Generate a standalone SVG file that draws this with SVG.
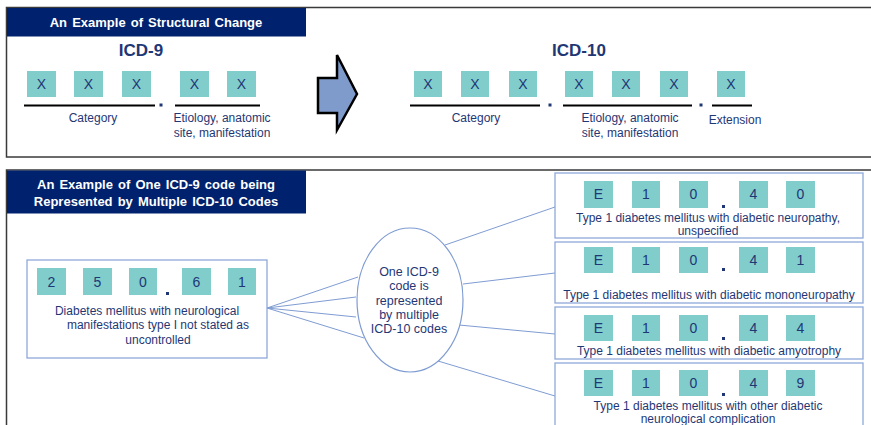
<svg xmlns="http://www.w3.org/2000/svg" width="871" height="425" viewBox="0 0 871 425">
<defs>
<style>
.panel{fill:#fff;stroke:#3a3a3a;stroke-width:1.5}
.bar{fill:#00226e}
.bt{font-family:"Liberation Sans",Arial,sans-serif;font-weight:bold;font-size:13px;word-spacing:1.5px;fill:#fff;text-anchor:middle}
.hd{font-family:"Liberation Sans",Arial,sans-serif;font-weight:bold;font-size:17px;fill:#1f3775;text-anchor:middle}
.sq{fill:#80cdcb}
.ch{font-family:"Liberation Sans",Arial,sans-serif;font-size:14px;fill:#1f3775;text-anchor:middle}
.lb{font-family:"Liberation Sans",Arial,sans-serif;font-size:12px;fill:#1f3775;text-anchor:middle}
.el{font-family:"Liberation Sans",Arial,sans-serif;font-size:12.5px;fill:#1f3775;text-anchor:middle}
.ul{stroke:#000;stroke-width:2}
.dot{fill:#1f3775}
.box{fill:#fff;stroke:#8ea8da;stroke-width:1.3}
.con{fill:none;stroke:#7f9cd2;stroke-width:1}
</style>
</defs>
<rect width="871" height="425" fill="#fff"/>

<g id="panel-structural">
<rect class="panel" x="6.5" y="7.5" width="870" height="149.5"/>
<rect class="bar" x="7" y="8" width="299" height="28.5"/>
<text class="bt" x="156" y="27">An Example of Structural Change</text>
</g>

<g id="icd9">
<text class="hd" x="141" y="56">ICD-9</text>
<rect class="sq" x="27" y="71" width="29" height="26"/>
<rect class="sq" x="74" y="71" width="29" height="26"/>
<rect class="sq" x="122" y="71" width="29" height="26"/>
<rect class="sq" x="180" y="71" width="29" height="26"/>
<rect class="sq" x="227" y="71" width="29" height="26"/>
<text class="ch" x="41.5" y="89">X</text>
<text class="ch" x="88.5" y="89">X</text>
<text class="ch" x="136.5" y="89">X</text>
<text class="ch" x="194.5" y="89">X</text>
<text class="ch" x="241.5" y="89">X</text>
<line class="ul" x1="24" y1="105.5" x2="155" y2="105.5"/>
<rect class="dot" x="159.5" y="103.5" width="3" height="3"/>
<line class="ul" x1="175" y1="105.5" x2="260" y2="105.5"/>
<text class="lb" x="93" y="122">Category</text>
<text class="lb" x="222" y="122">Etiology, anatomic</text>
<text class="lb" x="222" y="137">site, manifestation</text>
</g>

<g id="arrow">
<polygon points="318,78 337,78 337,55 357,94 337,130 337,113 318,113" fill="#7f9bcc" stroke="#000" stroke-width="2.5" stroke-linejoin="miter"/>
</g>

<g id="icd10">
<text class="hd" x="579" y="56">ICD-10</text>
<rect class="sq" x="414" y="71" width="28" height="26"/>
<rect class="sq" x="461" y="71" width="28" height="26"/>
<rect class="sq" x="509" y="71" width="28" height="26"/>
<rect class="sq" x="565" y="71" width="28" height="26"/>
<rect class="sq" x="612" y="71" width="28" height="26"/>
<rect class="sq" x="660" y="71" width="28" height="26"/>
<rect class="sq" x="717" y="71" width="28" height="26"/>
<text class="ch" x="428" y="89">X</text>
<text class="ch" x="475" y="89">X</text>
<text class="ch" x="523" y="89">X</text>
<text class="ch" x="579" y="89">X</text>
<text class="ch" x="626" y="89">X</text>
<text class="ch" x="674" y="89">X</text>
<text class="ch" x="731" y="89">X</text>
<line class="ul" x1="410" y1="105.5" x2="540" y2="105.5"/>
<rect class="dot" x="548.5" y="103.5" width="3" height="3"/>
<line class="ul" x1="563" y1="105.5" x2="692" y2="105.5"/>
<rect class="dot" x="699.5" y="103.5" width="3" height="3"/>
<line class="ul" x1="712" y1="105.5" x2="752" y2="105.5"/>
<text class="lb" x="476" y="122">Category</text>
<text class="lb" x="630" y="122">Etiology, anatomic</text>
<text class="lb" x="630" y="137">site, manifestation</text>
<text class="lb" x="735" y="124">Extension</text>
</g>

<g id="panel-mapping">
<rect class="panel" x="6.5" y="170" width="870" height="265"/>
<rect class="bar" x="7" y="170.5" width="299" height="43"/>
<text class="bt" x="156" y="189">An Example of One ICD-9 code being</text>
<text class="bt" x="156" y="205.5">Represented by Multiple ICD-10 Codes</text>
</g>

<g id="connectors">
<line class="con" x1="267" y1="308" x2="358" y2="277"/>
<line class="con" x1="267" y1="308" x2="356" y2="297"/>
<line class="con" x1="267" y1="308" x2="356" y2="317"/>
<line class="con" x1="267" y1="308" x2="364" y2="338"/>
<line class="con" x1="445" y1="245" x2="555" y2="207"/>
<line class="con" x1="463" y1="284" x2="555" y2="273"/>
<line class="con" x1="459" y1="325" x2="555" y2="334"/>
<line class="con" x1="438" y1="361" x2="555" y2="396"/>
</g>

<g id="icd9-code">
<rect class="box" x="27" y="260" width="240" height="98"/>
<rect class="sq" x="37" y="268" width="29" height="27"/>
<rect class="sq" x="83" y="268" width="29" height="27"/>
<rect class="sq" x="129" y="268" width="28" height="27"/>
<rect class="sq" x="182" y="268" width="29" height="27"/>
<rect class="sq" x="228" y="268" width="28" height="27"/>
<text class="ch" x="51.5" y="287">2</text>
<text class="ch" x="97.5" y="287">5</text>
<text class="ch" x="143" y="287">0</text>
<text class="ch" x="196.5" y="287">6</text>
<text class="ch" x="242" y="287">1</text>
<rect class="dot" x="166" y="292" width="3" height="3"/>
<text class="lb" x="147" y="315">Diabetes mellitus with neurological</text>
<text class="lb" x="158" y="329">manifestations type I not stated as</text>
<text class="lb" x="158" y="344">uncontrolled</text>
</g>

<g id="ellipse">
<ellipse cx="410" cy="300" rx="53" ry="72" fill="#fff" stroke="#7f9cd2" stroke-width="1.2"/>
<text class="el" x="409" y="276">One ICD-9</text>
<text class="el" x="409" y="290">code is</text>
<text class="el" x="409" y="305">represented</text>
<text class="el" x="409" y="319">by multiple</text>
<text class="el" x="409" y="333">ICD-10 codes</text>
</g>

<g id="e1040">
<rect class="box" x="555" y="173" width="308" height="65"/>
<rect class="sq" x="584" y="181" width="29" height="27"/>
<rect class="sq" x="632" y="181" width="28" height="27"/>
<rect class="sq" x="679" y="181" width="29" height="27"/>
<rect class="sq" x="739" y="181" width="29" height="27"/>
<rect class="sq" x="786" y="181" width="29" height="27"/>
<text class="ch" x="598.5" y="199">E</text>
<text class="ch" x="646" y="199">1</text>
<text class="ch" x="693.5" y="199">0</text>
<text class="ch" x="753.5" y="199">4</text>
<text class="ch" x="800.5" y="199">0</text>
<rect class="dot" x="722" y="205" width="3" height="3"/>
<text class="lb" x="708" y="222">Type 1 diabetes mellitus with diabetic neuropathy,</text>
<text class="lb" x="708" y="235">unspecified</text>
</g>

<g id="e1041">
<rect class="box" x="555" y="242" width="308" height="61"/>
<rect class="sq" x="584" y="247" width="29" height="26"/>
<rect class="sq" x="632" y="247" width="28" height="26"/>
<rect class="sq" x="679" y="247" width="29" height="26"/>
<rect class="sq" x="739" y="247" width="29" height="26"/>
<rect class="sq" x="786" y="247" width="29" height="26"/>
<text class="ch" x="598.5" y="265">E</text>
<text class="ch" x="646" y="265">1</text>
<text class="ch" x="693.5" y="265">0</text>
<text class="ch" x="753.5" y="265">4</text>
<text class="ch" x="800.5" y="265">1</text>
<rect class="dot" x="722" y="268" width="3" height="3"/>
<text class="lb" x="709" y="299">Type 1 diabetes mellitus with diabetic mononeuropathy</text>
</g>

<g id="e1044">
<rect class="box" x="555" y="307" width="308" height="52"/>
<rect class="sq" x="584" y="315" width="29" height="26"/>
<rect class="sq" x="632" y="315" width="28" height="26"/>
<rect class="sq" x="679" y="315" width="29" height="26"/>
<rect class="sq" x="739" y="315" width="29" height="26"/>
<rect class="sq" x="786" y="315" width="29" height="26"/>
<text class="ch" x="598.5" y="333">E</text>
<text class="ch" x="646" y="333">1</text>
<text class="ch" x="693.5" y="333">0</text>
<text class="ch" x="753.5" y="333">4</text>
<text class="ch" x="800.5" y="333">4</text>
<rect class="dot" x="722" y="337" width="3" height="3"/>
<text class="lb" x="709" y="355">Type 1 diabetes mellitus with diabetic amyotrophy</text>
</g>

<g id="e1049">
<rect class="box" x="555" y="363" width="308" height="70"/>
<rect class="sq" x="584" y="370" width="29" height="26"/>
<rect class="sq" x="632" y="370" width="28" height="26"/>
<rect class="sq" x="679" y="370" width="29" height="26"/>
<rect class="sq" x="739" y="370" width="29" height="26"/>
<rect class="sq" x="786" y="370" width="29" height="26"/>
<text class="ch" x="598.5" y="388">E</text>
<text class="ch" x="646" y="388">1</text>
<text class="ch" x="693.5" y="388">0</text>
<text class="ch" x="753.5" y="388">4</text>
<text class="ch" x="800.5" y="388">9</text>
<rect class="dot" x="722" y="393" width="3" height="3"/>
<text class="lb" x="708" y="410">Type 1 diabetes mellitus with other diabetic</text>
<text class="lb" x="708" y="423">neurological complication</text>
</g>
</svg>
